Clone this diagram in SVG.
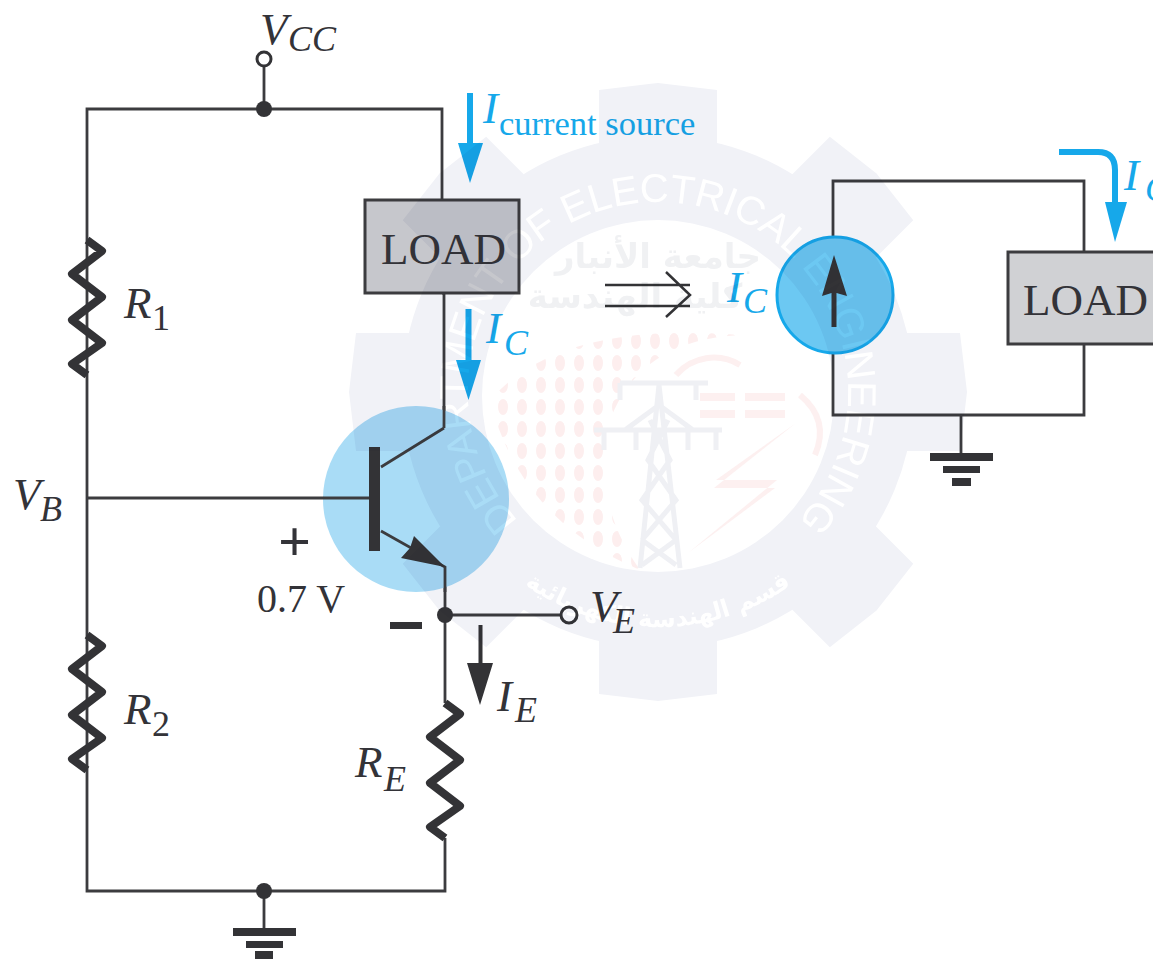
<svg xmlns="http://www.w3.org/2000/svg" xmlns:xlink="http://www.w3.org/1999/xlink" width="1153" height="959" viewBox="0 0 1153 959">
<style>
text{font-family:"Liberation Serif","Times New Roman",serif;fill:#333338}
.i{font-style:italic;font-size:45px}
.s{font-style:italic;font-size:36px}
.n{font-size:36px}
.b{fill:#16a8ea}
.w{fill:none;stroke:#3c3c3f;stroke-width:2.800}
.r{fill:none;stroke:#333336;stroke-width:8;stroke-linejoin:round}
.d{fill:#333336}
.load{fill:#c6c7cc;stroke:#3c3c3f;stroke-width:3}
.ba{fill:none;stroke:#16a8ea;stroke-width:6}
.t{fill:#fff;font-family:"Liberation Sans",Arial,sans-serif;font-size:40px}
.ar{font-family:"DejaVu Sans","Noto Sans",sans-serif;font-weight:bold}
.tw{fill:none;stroke:#eff0f4;stroke-width:5}
.rd{fill:#fdf0f0}
</style>
<defs>
<path id="tooth" d="M599 90L658 83L717 90L717 200L599 200Z" fill="#f1f2f7"/>
<pattern id="dots" width="19" height="22" patternUnits="userSpaceOnUse"><ellipse cx="9" cy="11" rx="5" ry="8" fill="#fdeeee"/></pattern>
<path id="ring" d="M658 582A190 190 0 1 1 658 202A190 190 0 1 1 658 582"/>
<path id="ring2" d="M490 555A232 232 0 0 0 826 555"/>
</defs>
<rect width="1153" height="959" fill="#fff"/>
<g id="connectors">
<path class="w" d="M87 498V109H442V200M442 293H444V428L381 467M370 498H87V891H445V838M445 703V567L381 531M445 615H562M264 66V109M264 891V928"/>
<path class="w" d="M1084 252V181H833V237M833 353V415H1084V344M961 415V453"/>
<path class="r" d="M87 240L102 251L72 274L102 297L72 320L102 343L72 364L87 375"/>
<path class="r" d="M87 635L102 646L72 669L102 692L72 715L102 738L72 759L87 770"/>
<path class="r" d="M445 703L460 714L430 737L460 760L430 783L460 806L430 827L445 838"/>
<path d="M605 285H690M605 306H690M666 272L690 295L666 317" fill="none" stroke="#333336" stroke-width="2.500"/>
</g>
<g id="vcc"><circle cx="264" cy="59" r="7" fill="#fff" stroke="#333336" stroke-width="3"/><circle class="d" cx="264" cy="109" r="8"/></g>
<g id="ground-1"><circle class="d" cx="264" cy="891" r="8"/><rect class="d" x="233" y="928" width="63" height="8"/><rect class="d" x="246" y="941" width="37" height="7"/><rect class="d" x="255" y="951" width="18" height="8"/></g>
<g id="load-1"><rect class="load" x="365" y="200" width="154" height="93"/><text x="381" y="264" font-size="45">LOAD</text></g>
<g id="transistor">
<circle cx="416" cy="499" r="93" fill="#a9dcf6"/>
<path class="w" d="M444 428L381 467M370 498H323M381 531L445 567V592M444 406V428"/>
<rect class="d" x="369" y="447" width="11" height="104"/>
<path class="d" d="M445 567L414 536L410 548L401 558Z"/>
</g>
<g id="node-ve"><circle class="d" cx="445" cy="615" r="8"/><circle cx="569" cy="615" r="8" fill="#fff" stroke="#333336" stroke-width="3"/></g>
<g id="source"><circle cx="835" cy="295" r="58" fill="#6cc8f2" stroke="#16a8ea" stroke-width="3"/><path class="d" d="M834 255L847 296L836.500 293V327H831.500V293L822 296Z"/></g>
<g id="load-2"><rect class="load" x="1008" y="252" width="160" height="92" style="fill:#d0d1d4"/><text x="1023" y="315" font-size="45">LOAD</text></g>
<g id="ground-2"><rect class="d" x="930" y="453" width="63" height="8"/><rect class="d" x="943" y="466" width="37" height="7"/><rect class="d" x="952" y="478" width="19" height="8"/></g>
<g id="arrow-ie"><path class="d" d="M478.500 625H482.500V663H493L480 705L467 663H478.500Z"/></g>
<g id="arrow-source"><path class="ba" d="M470 93V145"/><path class="b" d="M458 143H483L470 183Z"/></g>
<g id="arrow-ic"><path class="ba" d="M468.500 309V362"/><path class="b" d="M456 360H481L468.500 400Z"/></g>
<g id="arrow-ic2"><path class="ba" d="M1059 152H1098Q1115 152 1115 170V205"/><path class="b" d="M1105 202H1127L1115 242Z"/></g>
<g id="labels">
<text x="260" y="44" class="i">V</text><text x="288" y="51" class="s">CC</text>
<text x="124" y="318" class="i">R</text><text x="152" y="330" class="n">1</text>
<text x="124" y="724" class="i">R</text><text x="152" y="736" class="n">2</text>
<text x="13" y="509" class="i">V</text><text x="40" y="521" class="s">B</text>
<text x="257" y="612" font-size="40">0.7 V</text>
<text x="278" y="561" font-size="58" font-weight="bold">+</text>
<rect class="d" x="390" y="622" width="32" height="7"/>
<text x="590" y="621" class="i">V</text><text x="613" y="633" class="s">E</text>
<text x="497" y="711" class="i">I</text><text x="515" y="722" class="s">E</text>
<text x="355" y="777" class="i">R</text><text x="384" y="791" class="s">E</text>
<text x="483" y="123" class="i b">I</text><text x="499" y="135" font-size="34.500" class="b">current source</text>
<text x="486" y="343" class="i b">I</text><text x="504" y="355" class="s b">C</text>
<text x="727" y="302" class="i b">I</text><text x="743" y="313" class="s b">C</text>
<text x="1124" y="190" class="i b">I</text><text x="1145" y="201" class="s b">C</text>
</g>
<g id="watermark" style="mix-blend-mode:multiply">
<circle cx="658" cy="392" r="256" fill="#f1f2f7"/>
<use href="#tooth"/>
<use href="#tooth" transform="rotate(45 658 392)"/>
<use href="#tooth" transform="rotate(90 658 392)"/>
<use href="#tooth" transform="rotate(135 658 392)"/>
<use href="#tooth" transform="rotate(180 658 392)"/>
<use href="#tooth" transform="rotate(225 658 392)"/>
<use href="#tooth" transform="rotate(270 658 392)"/>
<use href="#tooth" transform="rotate(315 658 392)"/>
<circle cx="658" cy="396" r="176" fill="#fff"/>
<path d="M490 400Q560 320 740 335Q640 340 610 420Q590 500 640 570Q520 520 490 400Z" fill="url(#dots)"/>
<path class="tw" d="M659 385L640 568M659 385L680 568M620 383H708M594 430H722M625 430L659 405L693 430M642 540L676 500L648 460L668 420M676 540L642 500L670 460L650 420M642 565L676 540M676 565L642 540M620 383V400M696 383V400M604 430V450M636 430V450M688 430V450M716 430V450"/>
<path d="M796 423L716 480H777L688 553L775 488H714Z" class="rd"/>
<path d="M700 393H735V401H700ZM700 410H735V418H700ZM745 393H785V401H745ZM745 410H785V418H745Z" class="rd"/>
<path d="M676 375A50 50 0 0 1 740 365M800 395Q830 420 815 455" fill="none" stroke="#fdf0f0" stroke-width="6"/>
<text class="t"><textPath href="#ring" startOffset="50%" text-anchor="middle" textLength="880">DEPARTMENT OF ELECTRICAL ENGINEERING</textPath></text>
<text class="t" style="font-family:'DejaVu Sans',sans-serif;font-size:24px;font-weight:bold"><textPath href="#ring2" startOffset="50%" text-anchor="middle">قسم الهندسة الكهربائية</textPath></text>
<text x="658" y="268" text-anchor="middle" class="ar" font-size="34" style="fill:#f0f1f3">جامعة الأنبار</text>
<text x="635" y="308" text-anchor="middle" class="ar" font-size="34" style="fill:#f0f1f3">كلية الهندسة</text>
</g>
</svg>
